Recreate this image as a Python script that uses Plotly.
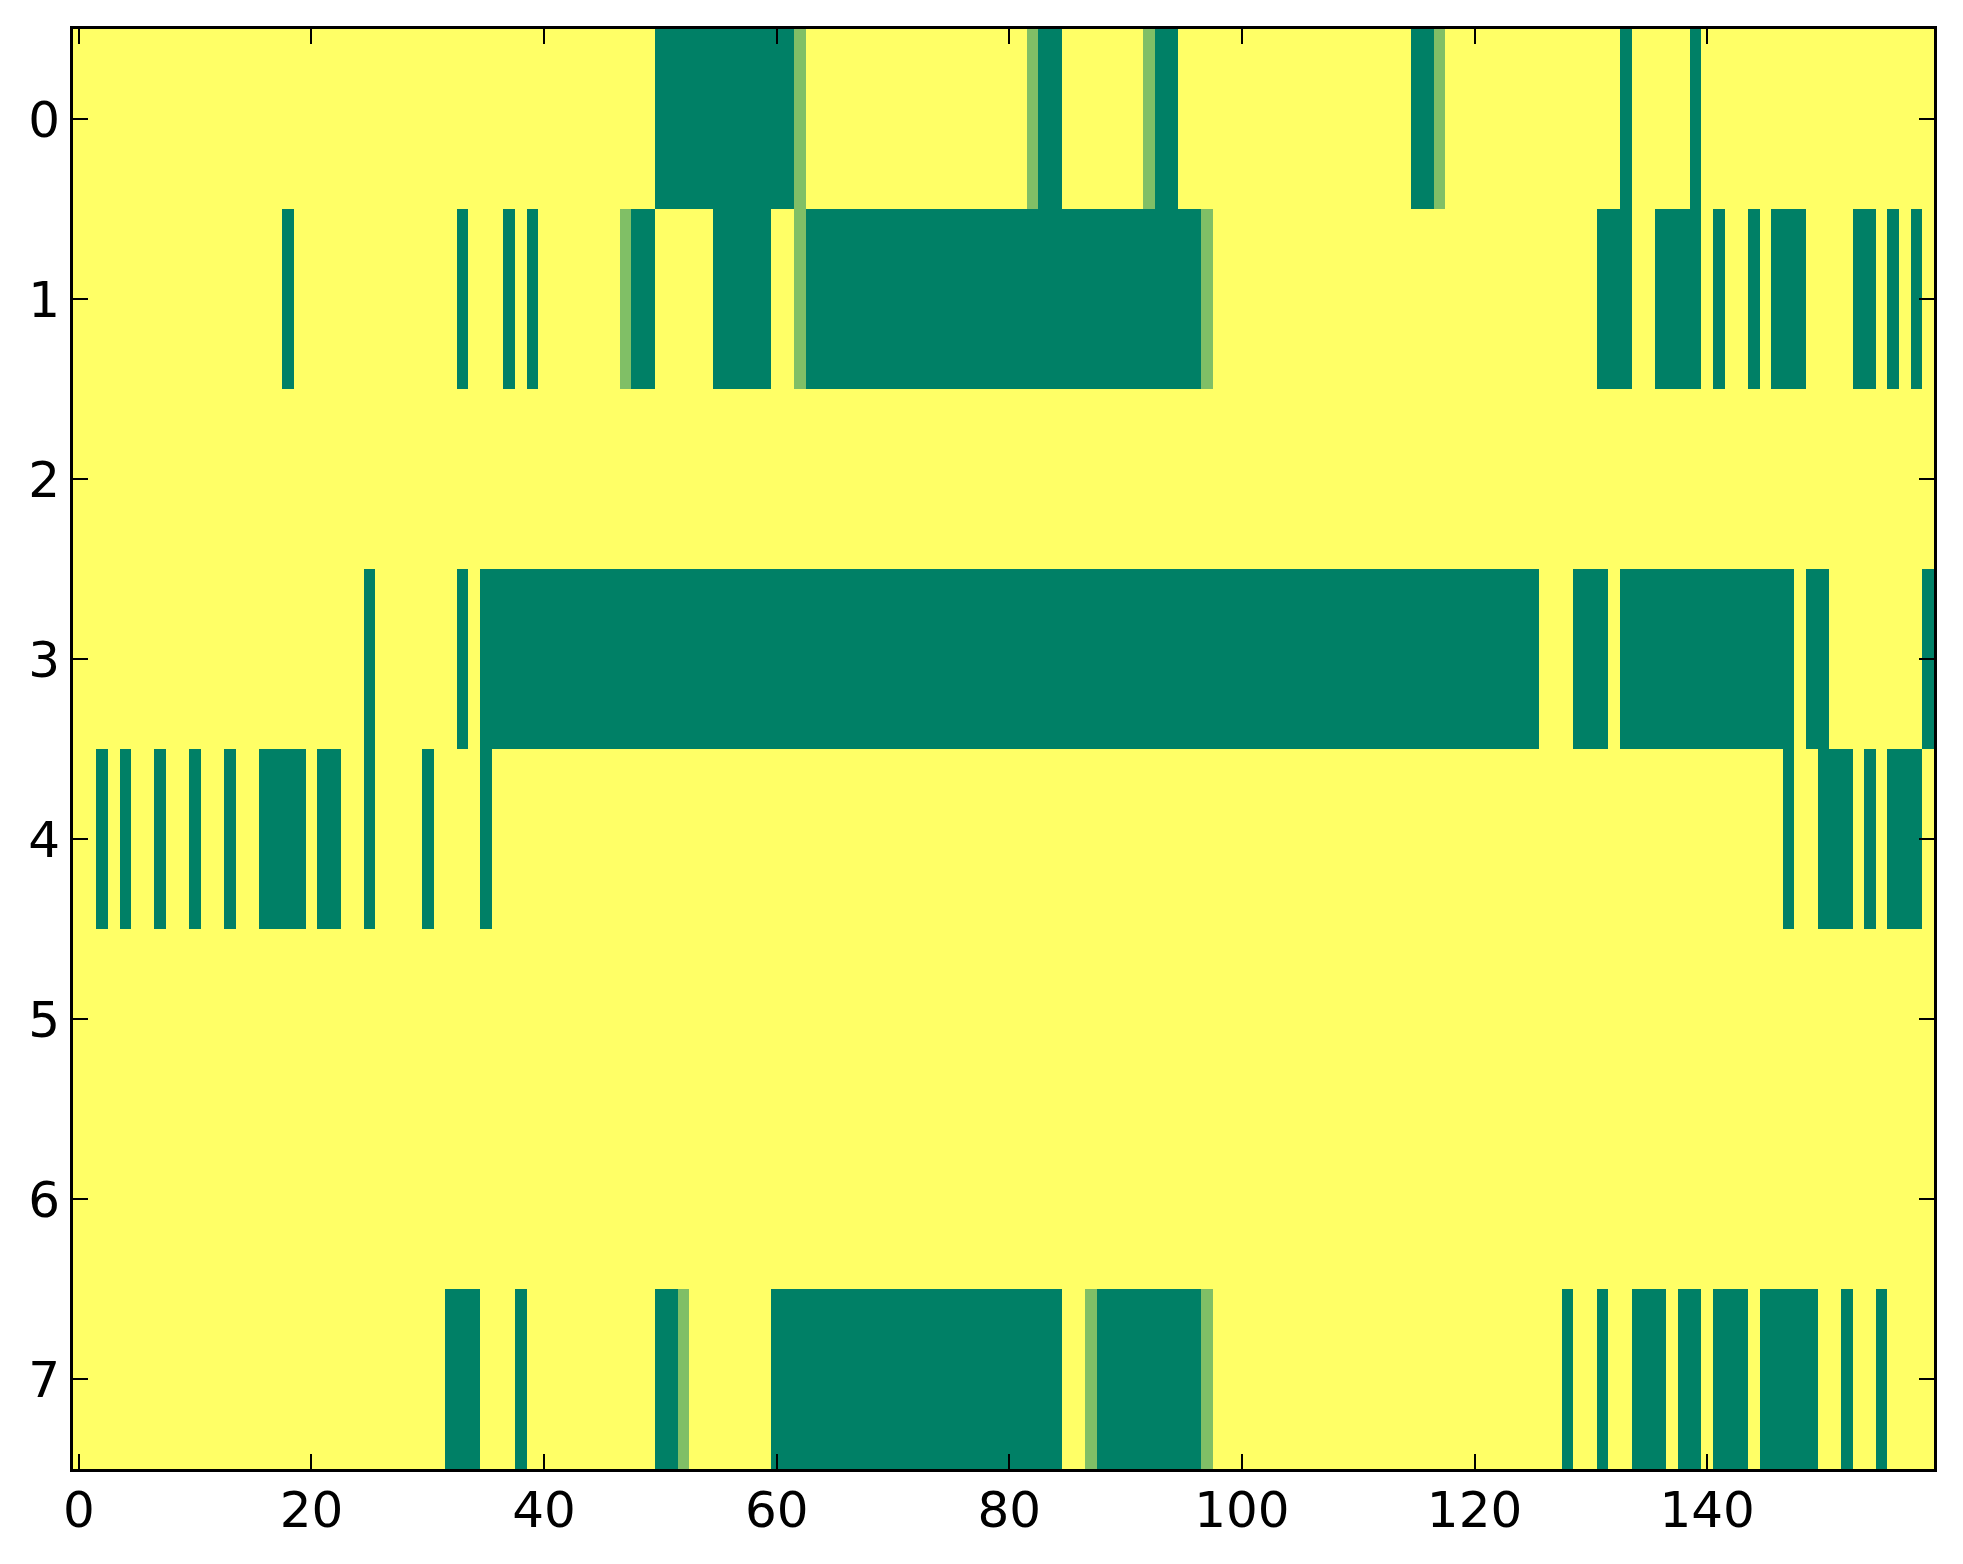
import plotly.graph_objects as go

# one string per image row, 160 cells each; "0" low, "h" mid, "1" high
levels = {"0": 0.0, "h": 0.5, "1": 1.0}

row_0 = ("11111111111111111111" "11111111111111111111" "11111111110000000000" "00h11111111111111111"
         "11h001111111h0011111" "11111111111111100h11" "11111111111110111110" "11111111111111111111")
row_1 = ("11111111111111111101" "11111111111110111010" "1111111h001111100000" "11h00000000000000000"
         "00000000000000000h11" "11111111111111111111" "11111111111000110000" "10110100011110010101")
row_2 = ("11111111111111111111" "11111111111111111111" "11111111111111111111" "11111111111111111111"
         "11111111111111111111" "11111111111111111111" "11111111111111111111" "11111111111111111111")
row_3 = ("11111111111111111111" "11111011111110100000" "00000000000000000000" "00000000000000000000"
         "00000000000000000000" "00000000000000000000" "00000011100010000000" "00000000100111111110")
row_4 = ("11010110110110110000" "10011011110111101111" "11111111111111111111" "11111111111111111111"
         "11111111111111111111" "11111111111111111111" "11111111111111111111" "11111110110001010001")
row_5 = ("11111111111111111111" "11111111111111111111" "11111111111111111111" "11111111111111111111"
         "11111111111111111111" "11111111111111111111" "11111111111111111111" "11111111111111111111")
row_6 = ("11111111111111111111" "11111111111111111111" "11111111111111111111" "11111111111111111111"
         "11111111111111111111" "11111111111111111111" "11111111111111111111" "11111111111111111111")
row_7 = ("11111111111111111111" "11111111111100011101" "111111111100h1111111" "00000000000000000000"
         "0000011h000000000h11" "11111111111111111111" "11111111011011000100" "10001000001101101111")

rows = [row_0, row_1, row_2, row_3, row_4, row_5, row_6, row_7]
z = [[levels[c] for c in r] for r in rows]

x_ticks = [0, 20, 40, 60, 80, 100, 120, 140]
y_ticks = [0, 1, 2, 3, 4, 5, 6, 7]

# matplotlib "summer"
summer = [[0.0, "#008066"], [0.5, "#80bf66"], [1.0, "#ffff66"]]

fig = go.Figure(go.Heatmap(
    z=z,
    colorscale=summer,
    zmin=0, zmax=1,
    showscale=False,
    hoverongaps=False,
))

axis_style = dict(
    showline=True, linecolor="black", linewidth=3, mirror="ticks",
    ticks="inside", ticklen=15, tickwidth=2, tickcolor="black",
    showgrid=False, zeroline=False,
)

# page body has an 8px margin, so shift the plot area up/left to compensate
fig.update_layout(
    width=1963, height=1564,
    margin=dict(l=65, r=37, t=21, b=103),
    paper_bgcolor="white", plot_bgcolor="white",
    font=dict(family="DejaVu Sans", size=50, color="black"),
    xaxis=dict(range=[-0.5, 159.5], tickvals=x_ticks, ticklabelstandoff=-5, **axis_style),
    yaxis=dict(range=[7.5, -0.5], tickvals=y_ticks, ticklabelstandoff=0, **axis_style),
)

fig.write_html("out.html")
